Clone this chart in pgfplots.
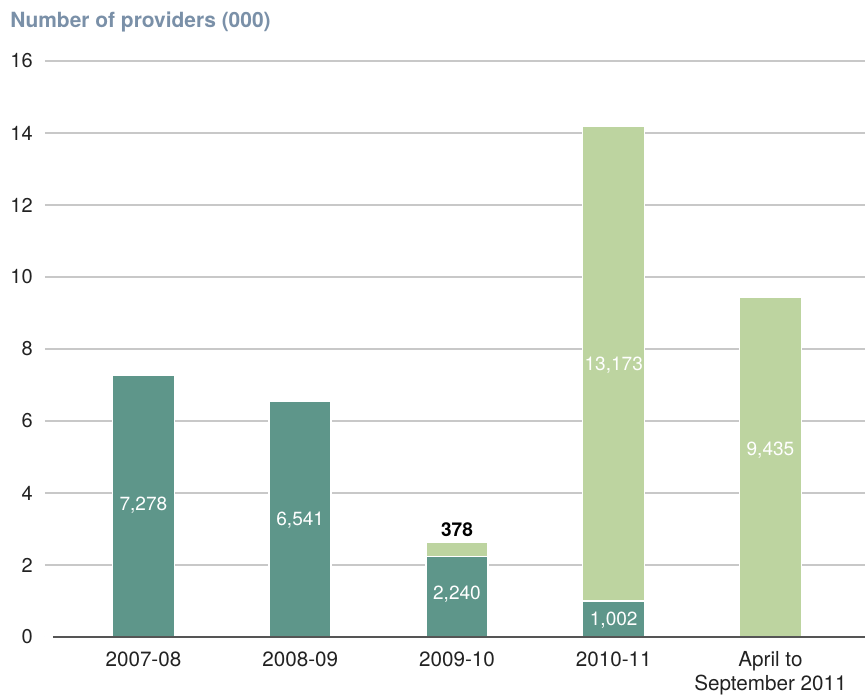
\documentclass[border=0pt]{standalone}
\usepackage{fontspec}
\setmainfont{TeX Gyre Heros}
\usepackage{pgfplots}
\pgfplotsset{compat=1.18}
\definecolor{darkbar}{RGB}{94,150,138}
\definecolor{lightbar}{RGB}{189,212,160}
\definecolor{titlec}{RGB}{122,144,168}
\definecolor{gridc}{RGB}{200,200,200}
\definecolor{basec}{RGB}{85,85,85}
\definecolor{textc}{RGB}{34,34,34}
\tikzset{vlab/.style={font=\fontsize{14.3}{16}\selectfont, inner sep=0pt}}
\begin{document}
\begin{tikzpicture}
\useasboundingbox (0,0) rectangle (648.75pt,525pt);
\node[anchor=west, inner sep=0pt, text=titlec, font=\fontsize{15.7}{18}\selectfont\bfseries] at (7.5pt,508.5pt) {Number of providers (000)};
\begin{axis}[
  at={(33.75pt,47.25pt)}, anchor=south west, scale only axis,
  width=615pt, height=432pt,
  xmin=-0.628, xmax=4.603, ymin=0, ymax=16,
  ybar stacked, bar width=0.3955,
  ytick={0,2,...,16}, xtick={0,1,2,3,4},
  xticklabels={2007-08,2008-09,2009-10,2010-11,{April to\\September 2011}},
  xticklabel style={align=center, anchor=north, inner sep=0pt, yshift=-11pt,
    font=\fontsize{15.5}{18}\selectfont, text=textc},
  yticklabel style={anchor=east, inner sep=0pt, xshift=-9pt,
    font=\fontsize{15}{18}\selectfont, text=textc},
  ymajorgrids, grid style={gridc, line width=0.8pt},
  axis line style={draw=none}, major tick length=0pt,
  /pgf/number format/assume math mode=true,
  clip=false,
]
\addplot[fill=darkbar, draw=white, line width=1.1pt] coordinates {(0,7.278) (1,6.541) (2,2.240) (3,1.002) (4,0)};
\addplot[fill=lightbar, draw=white, line width=1.1pt] coordinates {(0,0) (1,0) (2,0.378) (3,13.173) (4,9.435)};
\coordinate (g0) at (axis cs:-0.628,0);
\coordinate (b0) at (axis cs:-0.577,0);
\coordinate (b1) at (axis cs:4.603,0);
\coordinate (l1) at (axis cs:0,3.65);
\coordinate (l2) at (axis cs:1,3.25);
\coordinate (l3) at (axis cs:2,1.19);
\coordinate (l4) at (axis cs:3,0.47);
\coordinate (l5) at (axis cs:3,7.56);
\coordinate (l6) at (axis cs:4,5.19);
\coordinate (l7) at (axis cs:2,2.97);
\end{axis}
\draw[white, line width=1.5pt] (g0) -- (b0);
\draw[basec, line width=1.1pt] (b0) -- (b1);
\node[vlab, text=white] at (l1) {7,278};
\node[vlab, text=white] at (l2) {6,541};
\node[vlab, text=white] at (l3) {2,240};
\node[vlab, text=white] at (l4) {1,002};
\node[vlab, text=white] at (l5) {13,173};
\node[vlab, text=white] at (l6) {9,435};
\node[vlab, text=black, font=\fontsize{14.3}{16}\selectfont\bfseries] at (l7) {378};
\end{tikzpicture}
\end{document}
